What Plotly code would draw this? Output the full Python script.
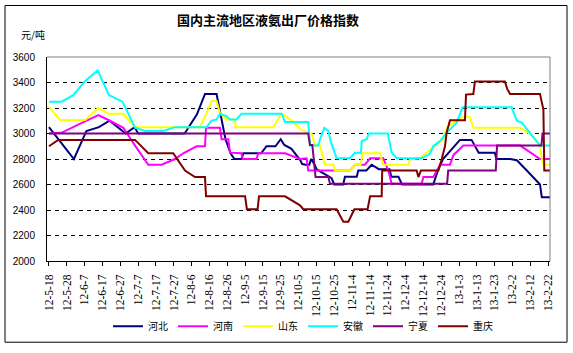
import plotly.graph_objects as go

# x = day offset from 2012-05-18
tick_labels = ["12-5-18", "12-5-28", "12-6-7", "12-6-17", "12-6-27", "12-7-7", "12-7-17",
               "12-7-27", "12-8-6", "12-8-16", "12-8-26", "12-9-5", "12-9-15", "12-9-25",
               "12-10-5", "12-10-15", "12-10-25", "12-11-4", "12-11-14", "12-11-24",
               "12-12-4", "12-12-14", "12-12-24", "13-1-3", "13-1-13", "13-1-23",
               "13-2-2", "13-2-12", "13-2-22"]

hebei_x = [0, 14, 21, 28, 34, 43, 48, 50, 76, 77, 83, 87.5, 94, 99, 102, 104, 108, 109, 119, 122,
           127, 130, 132, 136, 141, 142, 144, 146, 147, 149, 150, 155, 158.5, 160, 165, 166, 172.6,
           173.5, 178, 181, 183, 185, 191, 192, 196, 198, 215.5, 218.4, 221, 227, 230.5, 237, 241,
           250, 251, 258.6, 262.4, 268, 275.4, 276.4, 281]
hebei_y = [3050, 2800, 3020, 3050, 3100, 3000, 3050, 3000, 3000, 3020, 3150, 3310, 3310, 2955, 2840,
           2800, 2800, 2845, 2845, 2900, 2900, 2955, 2910, 2880, 2790, 2760, 2755, 2755, 2800, 2755,
           2720, 2680, 2650, 2600, 2600, 2660, 2660, 2710, 2710, 2755, 2740, 2720, 2720, 2660, 2660,
           2600, 2600, 2720, 2800, 2900, 2950, 2950, 2850, 2850, 2800, 2800, 2790, 2710, 2600, 2500,
           2500]

henan_x = [0, 7, 16.4, 27.7, 34.2, 41.7, 48.3, 55.7, 63.2, 70.7, 75.3, 82.8, 87.5, 88.1, 95.9, 96.8,
           100.6, 101.5, 108, 108.6, 116.4, 117.4, 132.4, 140.8, 144.5, 145.4, 168.8, 171.6, 177.2,
           180.1, 187.5, 190.3, 192.2, 209, 210, 215.5, 219.3, 224.9, 226.8, 232.4, 264.3, 275.4, 281]
henan_y = [3000, 3005, 3070, 3145, 3100, 3045, 2905, 2755, 2755, 2800, 2845, 2900, 2900, 3045, 3045,
           2955, 2955, 2850, 2845, 2800, 2800, 2845, 2845, 2800, 2805, 2710, 2710, 2755, 2755, 2805,
           2805, 2710, 2605, 2605, 2658, 2658, 2755, 2755, 2830, 2905, 2905, 2800, 2800]

shandong_x = [0, 6.2, 20.2, 27.7, 33.3, 41.7, 48.3, 84.7, 88.4, 91.2, 94, 95.9, 99.7, 104.3, 104.7,
              125.8, 130.5, 132.4, 137, 140.8, 145.4, 147.3, 149.2, 152, 153.9, 154.8, 159.5, 160.4,
              168.8, 171.6, 174.8, 175.9, 185.6, 187.5, 201.6, 202.5, 208, 215.5, 221.2, 223, 226.8,
              231.5, 234.3, 236.2, 238, 264.3, 269.9, 275.4, 276.4, 277.3, 281]
shandong_y = [3210, 3105, 3105, 3200, 3155, 3155, 3050, 3050, 3160, 3255, 3255, 3160, 3110, 3110, 3050,
              3050, 3155, 3140, 3090, 3035, 3005, 3000, 2905, 2905, 2800, 2755, 2755, 2710, 2710, 2755,
              2755, 2845, 2845, 2755, 2755, 2800, 2805, 2890, 2955, 3045, 3085, 3125, 3135, 3125, 3045,
              3045, 2995, 2910, 2800, 2755, 2755]

anhui_x = [0, 7.1, 13.6, 20.2, 27.3, 33.7, 41.2, 48.3, 53.9, 64.2, 70.7, 88.4, 91.2, 94, 95.9, 99.7,
           101.5, 105.2, 108, 130.5, 132.4, 145.4, 146.4, 151.1, 152, 154.4, 156.7, 158.2, 159.5, 161.3,
           168.8, 171.6, 175, 175.4, 178.2, 179.4, 190, 192.2, 195.1, 209, 213.7, 215.5, 219.3, 223,
           228.7, 232, 259.5, 262.4, 265.2, 275.4, 281]
anhui_y = [3250, 3250, 3300, 3410, 3495, 3300, 3250, 3045, 3020, 3020, 3050, 3050, 3100, 3110, 3155,
           3135, 3110, 3110, 3155, 3155, 3090, 3090, 2905, 2905, 2955, 3045, 3020, 2930, 2880, 2805,
           2805, 2850, 2850, 2940, 2955, 3000, 3000, 2850, 2805, 2805, 2840, 2900, 2940, 3005, 3085,
           3205, 3205, 3100, 3085, 2905, 2905]

ningxia_x = [0, 145.4, 146.4, 147.7, 148.5, 149.5, 156.7, 157.6, 223.3, 223.9, 250.6, 251.3, 276.2,
             276.8, 281]
ningxia_y = [3000, 3000, 2910, 2910, 2800, 2658, 2658, 2605, 2605, 2710, 2710, 2905, 2905, 3000, 3000]

chongqing_x = [0, 5.2, 48.3, 55.7, 69.7, 76.3, 81.9, 87.5, 88.1, 110, 111, 117, 117.8, 132.4, 140.8,
               142.6, 161.3, 165.1, 167.9, 171.3, 178.7, 180.1, 186.6, 186.9, 206.2, 207.2, 208.6,
               218.4, 220.3, 222.1, 223, 224.9, 233.3, 233.9, 238, 238.9, 255.7, 257, 258.6, 275.4,
               277.3, 277.8, 281]
chongqing_y = [2900, 2950, 2950, 2845, 2845, 2710, 2658, 2658, 2507, 2507, 2406, 2406, 2507, 2507, 2437,
               2406, 2406, 2308, 2308, 2406, 2406, 2507, 2507, 2710, 2710, 2658, 2710, 2710, 2800, 2900,
               3005, 3103, 3103, 3305, 3310, 3408, 3408, 3350, 3310, 3310, 3188, 2710, 2710]

series = [
    ("河北", hebei_x, hebei_y, "#000080"),
    ("河南", henan_x, henan_y, "#FF00FF"),
    ("山东", shandong_x, shandong_y, "#FFFF00"),
    ("安徽", anhui_x, anhui_y, "#00FFFF"),
    ("宁夏", ningxia_x, ningxia_y, "#800080"),
    ("重庆", chongqing_x, chongqing_y, "#800000"),
]

fig = go.Figure()
for name, xs, ys, col in series:
    fig.add_trace(go.Scatter(x=xs, y=ys, name=name, mode="lines",
                             line=dict(color=col, width=2)))

L, R, T, B = 47, 550, 57, 263
W, H = 573, 353
pw, ph = R - L, B - T

def px_x(px):
    return (px - L) / pw

def px_y(py):
    return (B - py) / ph

fig.update_layout(
    width=W, height=H,
    margin=dict(l=L, r=W - R, t=T, b=H - B),
    paper_bgcolor="white", plot_bgcolor="white",
    showlegend=True,
    legend=dict(orientation="h", x=px_x(108), xanchor="left", y=px_y(329), yanchor="middle",
                font=dict(family="Noto Sans CJK SC", size=10, color="black"),
                bgcolor="rgba(0,0,0,0)", itemwidth=30, tracegroupgap=0),
    font=dict(family="Liberation Sans", size=10, color="black"),
)

fig.update_xaxes(
    range=[-1.1, 281], showgrid=False, zeroline=False,
    showline=True, linecolor="black", linewidth=1,
    ticks="outside", ticklen=4, tickcolor="black", tickwidth=1,
    tickmode="array", tickvals=[i * 10 for i in range(len(tick_labels))], ticktext=tick_labels,
    tickangle=-90, ticklabelstandoff=4,
    tickfont=dict(family="Liberation Serif", size=11.5, color="black"),
)
fig.update_yaxes(
    range=[2000, 3600], dtick=200, tick0=2000,
    showgrid=True, gridcolor="black", gridwidth=1, griddash="4px,4px",
    zeroline=False, showline=True, linecolor="black", linewidth=1,
    ticks="", ticklabelstandoff=9,
    tickfont=dict(family="Liberation Sans", size=10, color="black"),
)

shapes = [
    dict(type="line", xref="paper", yref="paper", x0=0, x1=1, y0=1, y1=1,
         line=dict(color="#808080", width=1), layer="above"),
    dict(type="line", xref="paper", yref="paper", x0=1, x1=1, y0=0, y1=1,
         line=dict(color="#808080", width=1), layer="above"),
    dict(type="rect", xref="paper", yref="paper", x0=px_x(5), x1=px_x(567), y0=px_y(345), y1=px_y(5),
         line=dict(color="black", width=1), fillcolor="rgba(0,0,0,0)", layer="above"),
]
fig.update_layout(shapes=shapes)

fig.add_annotation(text="<b>国内主流地区液氨出厂价格指数</b>", xref="paper", yref="paper",
                   x=px_x(268), y=px_y(19), xanchor="center", yanchor="middle", showarrow=False,
                   font=dict(family="Noto Sans CJK SC", size=13, color="black"))
fig.add_annotation(text="元/吨", xref="paper", yref="paper",
                   x=px_x(19), y=px_y(34), xanchor="left", yanchor="middle", showarrow=False,
                   font=dict(family="Noto Sans CJK SC", size=10, color="black"))

fig.write_html("out.html")
